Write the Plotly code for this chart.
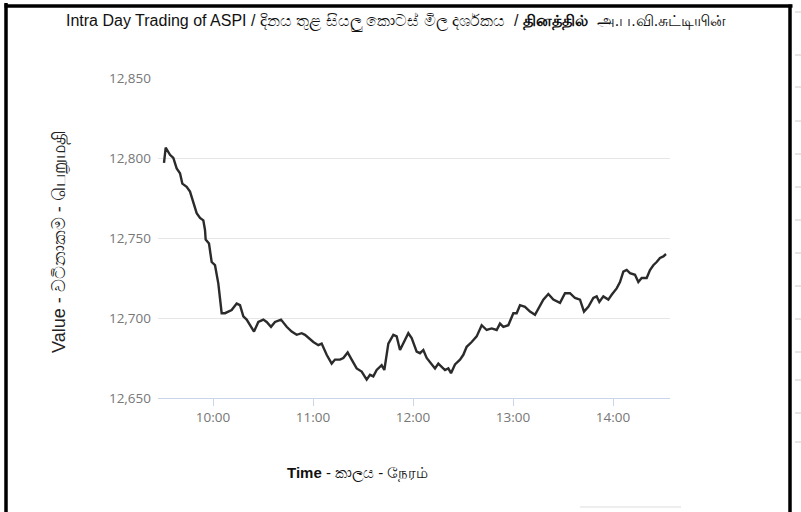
import plotly.graph_objects as go

times = [
    "09:30:36", "09:31:37", "09:34:12", "09:36:12", "09:38:12", "09:40:12", "09:41:36", "09:44:12",
    "09:46:12", "09:48:12", "09:50:12", "09:52:12", "09:54:12", "09:55:12", "09:55:36", "09:57:36",
    "09:59:12", "10:01:12", "10:03:12", "10:05:12", "10:07:12", "10:11:12", "10:14:12", "10:16:12",
    "10:18:12", "10:20:12", "10:22:12", "10:24:36", "10:27:12", "10:30:12", "10:32:12", "10:34:48",
    "10:37:12", "10:40:48", "10:44:12", "10:47:12", "10:50:12", "10:53:12", "10:55:12", "10:57:12",
    "11:00:12", "11:03:12", "11:05:12", "11:08:12", "11:11:12", "11:13:12", "11:16:12", "11:18:12",
    "11:20:48", "11:23:12", "11:26:12", "11:29:12", "11:32:12", "11:34:12", "11:36:12", "11:38:12",
    "11:41:12", "11:42:48", "11:45:12", "11:48:12", "11:50:12", "11:52:12", "11:54:48", "11:57:12",
    "11:59:12", "12:02:12", "12:04:12", "12:06:12", "12:08:12", "12:11:12", "12:13:12", "12:15:12",
    "12:17:12", "12:19:12", "12:21:12", "12:22:48", "12:25:12", "12:28:12", "12:30:12", "12:32:12",
    "12:35:12", "12:38:12", "12:41:12", "12:44:12", "12:47:12", "12:50:12", "12:52:12", "12:54:12",
    "12:57:12", "13:00:12", "13:02:12", "13:04:12", "13:07:12", "13:10:12", "13:13:12", "13:16:12",
    "13:18:12", "13:21:12", "13:24:12", "13:28:12", "13:31:12", "13:34:12", "13:37:12", "13:40:12",
    "13:42:36", "13:45:12", "13:48:12", "13:50:12", "13:51:48", "13:54:12", "13:57:12", "13:59:12",
    "14:02:12", "14:04:12", "14:06:12", "14:08:12", "14:10:12", "14:13:12", "14:15:12", "14:17:12",
    "14:20:12", "14:22:12", "14:24:12", "14:26:12", "14:28:12", "14:30:12", "14:31:48",
]
values = [
    12797, 12806.5, 12802, 12800, 12793.5, 12790.5, 12784, 12782,
    12779, 12771.5, 12765.5, 12762.5, 12761, 12755, 12749, 12746.5,
    12735, 12733, 12721.5, 12703, 12703, 12705, 12709, 12708,
    12701, 12699, 12695.5, 12691.5, 12697.5, 12699, 12697.5, 12694.5,
    12697.5, 12699, 12694.5, 12691.5, 12689.5, 12690.5, 12689.5, 12687.5,
    12685, 12683, 12684, 12677, 12671.5, 12674, 12674, 12675,
    12678.5, 12674, 12668.5, 12666.5, 12661.5, 12664.5, 12663.5, 12667.5,
    12670.5, 12667.5, 12684, 12689.5, 12688.5, 12680, 12685, 12690.5,
    12687.5, 12679, 12678, 12680, 12675, 12671.5, 12668.5, 12671.5,
    12669.5, 12667.5, 12668.5, 12665.5, 12671, 12674, 12677, 12682,
    12685, 12688.5, 12695.5, 12692.5, 12693.5, 12692.5, 12696.5, 12694.5,
    12695.5, 12703, 12703, 12708, 12707, 12704, 12702, 12708,
    12711.5, 12715, 12711.5, 12709.5, 12715.5, 12715.5, 12712.5, 12711.5,
    12704, 12707, 12712.5, 12713.5, 12710, 12713.5, 12711.5, 12714.5,
    12718.5, 12722.5, 12729, 12730, 12728, 12727, 12722.5, 12725,
    12725, 12730, 12733, 12735, 12737.5, 12738.5, 12740,
]
y_ticks = [12650, 12700, 12750, 12800, 12850]

day = "2021-01-01 "
x = [day + t for t in times]

title_text = "Intra Day Trading of ASPI / දිනය තුළ සියලු කොටස් මිල දර්ශකය  / <b>தினத்தில்</b>  அ.ப.வி.சுட்டியின்"
y_title = "Value - වටිනාකම - பெறுமதி"
x_title = "<b>Time</b> - කාලය - நேரம்"

W, H = 801, 512
L, R, T, B = 158, 670, 78, 398
pw, ph = R - L, B - T

def px(xp):
    return (xp - L) / pw

def py(yp):
    return (B - yp) / ph

fig = go.Figure()
fig.add_trace(go.Scatter(
    x=x, y=values, mode="lines",
    line=dict(color="#2b2b2b", width=2.4),
    showlegend=False, hoverinfo="skip",
))

def pline(x0, y0, x1, y1, color, width):
    return dict(type="line", xref="paper", yref="paper",
                x0=px(x0), x1=px(x1), y0=py(y0), y1=py(y1),
                line=dict(color=color, width=width), layer="above")

shapes = [
    pline(6, 3, 6, 512, "black", 3.5),
    pline(4.5, 6, 792.5, 6, "black", 3.5),
    pline(790, 4.5, 790, 512, "black", 3.5),
    pline(580, 507, 681, 507, "#dddddd", 1),
]
for yy in [12, 55, 87, 121, 154, 187, 220, 253, 286, 319, 352, 380, 413, 442]:
    shapes.append(pline(795, yy, 801, yy, "#cccccc", 1))

fig.update_layout(
    width=W, height=H,
    margin=dict(l=L, r=W - R, t=T, b=H - B, pad=0),
    paper_bgcolor="white", plot_bgcolor="white",
    font=dict(family="Open Sans, Noto Sans, DejaVu Sans, sans-serif", color="#777777", size=14),
    xaxis=dict(
        range=[day + "09:27:00", day + "14:34:12"],
        type="date", tickformat="%H:%M", dtick=3600000,
        tick0=day + "10:00:00",
        showgrid=False, showline=True, linecolor="#ccd6eb", linewidth=1,
        ticks="outside", ticklen=7, tickcolor="#ccd6eb",
        tickfont=dict(size=13.5, color="#777777"), zeroline=False,
    ),
    yaxis=dict(
        range=[12650, 12850], tickvals=y_ticks,
        tickformat=",", showgrid=True, gridcolor="#e6e6e6", gridwidth=1,
        zeroline=False, showline=False, ticks="", ticklabelstandoff=6,
        tickfont=dict(size=13.5, color="#777777"),
    ),
    annotations=[
        dict(text=title_text, xref="paper", yref="paper", x=px(396), y=py(22),
             xanchor="center", yanchor="middle", showarrow=False,
             font=dict(size=16, color="#111111", family="Liberation Sans Narrow, Arial Narrow, Liberation Sans, Noto Sans, sans-serif")),
        dict(text=y_title, xref="paper", yref="paper", x=px(60), y=py(242),
             xanchor="center", yanchor="middle", showarrow=False, textangle=-90,
             font=dict(size=18, color="#222222", family="Liberation Sans, Noto Sans, sans-serif")),
        dict(text=x_title, xref="paper", yref="paper", x=px(357), y=py(473),
             xanchor="center", yanchor="middle", showarrow=False,
             font=dict(size=15, color="#111111", family="Liberation Sans Narrow, Liberation Sans, Noto Sans, sans-serif")),
    ],
    shapes=shapes,
    hovermode=False,
)

fig.write_html("out.html", config={"displayModeBar": False},
               post_script="document.body.style.margin='0';document.body.style.overflow='hidden';")
